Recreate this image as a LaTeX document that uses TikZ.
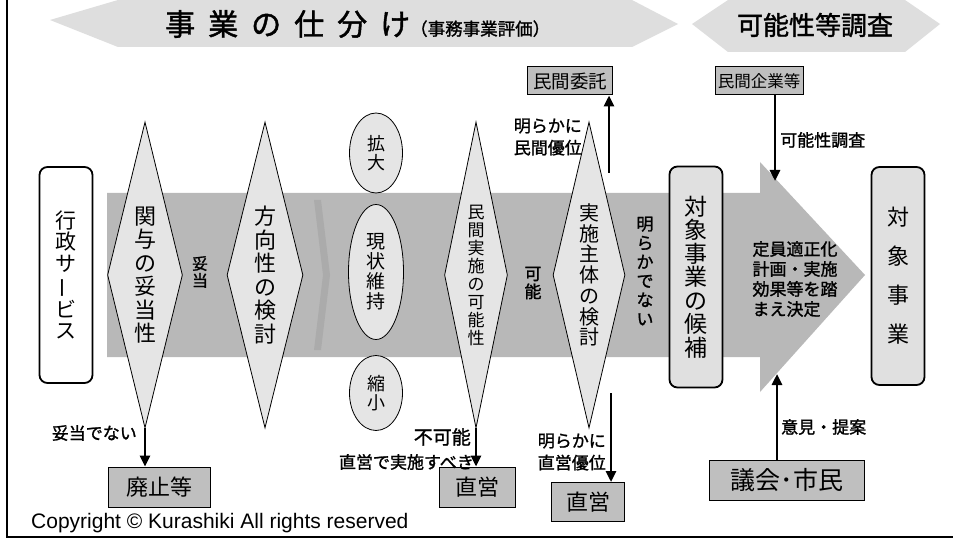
\documentclass[tikz,border=0pt]{standalone}
\usepackage{fontspec}
\usepackage{graphicx}
\setmainfont{Noto Sans CJK JP}
\newfontfamily\jpb[FakeBold=1.4]{Noto Sans CJK JP}
\newfontfamily\libsans{Liberation Sans}
\usetikzlibrary{shapes.geometric,arrows.meta}
\newcommand\vbar{\rotatebox[origin=c]{90}{ー}}
\newcommand\fsz[2]{\fontsize{#1}{#2}\selectfont}
\begin{document}
\begin{tikzpicture}[x=1pt,y=-1pt,
  dia/.style={diamond, draw, line width=0.8pt, fill=black!10, inner sep=0pt},
  oval/.style={ellipse, draw, line width=0.8pt, fill=black!10, inner sep=0pt},
  rbox/.style={rectangle, rounded corners=8pt, draw, line width=1.8pt, inner sep=0pt, align=center},
  gbox/.style={rectangle, draw, line width=1pt, fill=black!25, inner sep=0pt},
  vt/.style={align=center, inner sep=0pt},
  arr/.style={line width=2.6pt, -{Triangle[width=10pt,length=11pt]}},
  banner/.style={fill=black!13, draw=none},
  lab/.style={inner sep=0pt, font=\jpb\fsz{17}{22}}
]
\useasboundingbox (0,0) rectangle (953,540);
\fill[white] (0,0) rectangle (953,540);
% banners
\fill[banner] (50,20) -- (118,0) -- (632,0) -- (678,24) -- (632,47) -- (118,47) -- cycle;
\fill[banner] (692,24) -- (728,0) -- (905,0) -- (940,24) -- (905,52) -- (728,52) -- cycle;
\node[anchor=west, inner sep=0pt, font=\jpb\fsz{30}{30}] (title) at (165,24)
  {事\hspace{13pt}業\hspace{13pt}の\hspace{13pt}仕\hspace{13pt}分\hspace{13pt}け{\fsz{17.5}{18}（事務事業評価）}};
\node[inner sep=0pt, font=\jpb\fsz{26}{26}] (title2) at (815,25) {可能性等調査};
% main band arrow
\fill[black!28] (107,193) -- (760,193) -- (760,162) -- (865,275) -- (760,392) -- (760,357) -- (107,357) -- cycle;
\fill[black!33] (314,200) -- (321,200) -- (330,275) -- (321,350) -- (314,350) -- (323,275) -- cycle;
% frame
\draw[line width=2.5pt] (7,0) -- (7,537) -- (953,537);
% start node
\node[rbox, fill=white, minimum width=53pt, minimum height=216pt, font=\fsz{21}{21.5}] (gyosei) at (66,275) {行\\政\\サ\\\vbar\\ビ\\ス};
% diamonds
\node[dia, minimum width=75pt, minimum height=306pt] (d1) at (145,275) {};
\node[vt, font=\fsz{22}{23.5}] (t1) at (d1) {関\\与\\の\\妥\\当\\性};
\node[dia, minimum width=76pt, minimum height=306pt] (d2) at (265,275) {};
\node[vt, font=\fsz{22}{23.5}] (t2) at (d2) {方\\向\\性\\の\\検\\討};
\node[dia, minimum width=63pt, minimum height=306pt] (d3) at (476,275) {};
\node[vt, font=\fsz{17}{18}] (t3) at (d3) {民\\間\\実\\施\\の\\可\\能\\性};
\node[dia, minimum width=72pt, minimum height=306pt] (d4) at (589,275) {};
\node[vt, font=\fsz{20}{20.7}] (t4) at (d4) {実\\施\\主\\体\\の\\検\\討};
% ellipses
\node[oval, minimum width=53pt, minimum height=80pt, font=\fsz{18}{19}, align=center] (e1) at (376,153) {拡\\大};
\node[oval, minimum width=55pt, minimum height=135pt, font=\fsz{19}{20}, align=center] (e2) at (376,272) {現\\状\\維\\持};
\node[oval, minimum width=53pt, minimum height=75pt, font=\fsz{18}{19}, align=center] (e3) at (376,393) {縮\\小};
% candidate and target
\node[rbox, fill=black!12, minimum width=53pt, minimum height=221pt, font=\fsz{23}{23.5}] (kouho) at (696,277) {対\\象\\事\\業\\の\\候\\補};
\node[rbox, fill=black!12, minimum width=53pt, minimum height=218pt, font=\fsz{22}{39}] (taisho) at (898,276) {対\\象\\事\\業};
% boxes
\node[gbox, minimum width=85pt, minimum height=28pt, font=\fsz{18.5}{18}] (minkan) at (570,81) {民間委託};
\node[gbox, minimum width=88pt, minimum height=28pt, font=\fsz{16.5}{16}] (kigyo) at (759,81) {民間企業等};
\node[gbox, minimum width=102pt, minimum height=40pt, font=\fsz{22}{22}] (haishi) at (159,487) {廃止等};
\node[gbox, minimum width=76pt, minimum height=40pt, font=\fsz{22}{22}] (choku1) at (477,487) {直営};
\node[gbox, minimum width=73pt, minimum height=39pt, font=\fsz{22}{22}] (choku2) at (588,502) {直営};
\node[gbox, minimum width=155pt, minimum height=40pt, font=\fsz{25}{25}] (gikai) at (787,480) {議会･市民};
% labels
\node[lab, font=\jpb\fsz{16}{17}, align=center] (ldatou) at (200,272) {妥\\当};
\node[lab, font=\jpb\fsz{17}{18}, align=center] (lkanou) at (533,283) {可\\能};
\node[lab, font=\jpb\fsz{17}{19}, align=center] (lakira) at (645,271) {明\\ら\\か\\で\\な\\い};
\node[lab, font=\jpb\fsz{17}{20}, align=left] (lkettei) at (795,279) {定員適正化\\計画・実施\\効果等を踏\\まえ決定};
\node[lab, anchor=east] (lnot) at (137,433) {妥当でない};
\node[lab, anchor=east, font=\jpb\fsz{19}{20}] (lfuka) at (471,437) {不可能};
\node[lab, anchor=east] (lchoku) at (474,462) {直営で実施すべき};
\node[lab, anchor=east, align=left] (lminyu) at (582,137) {明らかに\\民間優位};
\node[lab, anchor=east, align=left] (lchokuyu) at (606,452) {明らかに\\直営優位};
\node[lab, anchor=west] (lchosa) at (780,140) {可能性調査};
\node[lab, anchor=west] (liken) at (781,427) {意見・提案};
% connectors
\coordinate (c1s) at (609,173);
\coordinate (c2s) at (611,393);
\coordinate (ah1) at (775,181);
\coordinate (ah2) at (777,374);
\draw[arr] (d1.south) -- (d1.south |- haishi.north);
\draw[arr] (d3.south) -- (d3.south |- choku1.north);
\draw[arr] (c2s) -- (c2s |- choku2.north);
\draw[arr] (c1s) -- (c1s |- minkan.south);
\draw[arr] (ah1 |- kigyo.south) -- (ah1);
\draw[arr] (ah2 |- gikai.north) -- (ah2);
% copyright
\node[anchor=base west, inner sep=0pt, font=\libsans\fontsize{21}{21}\selectfont] (copy) at (31,528) {Copyright © Kurashiki All rights reserved};
\end{tikzpicture}
\end{document}
